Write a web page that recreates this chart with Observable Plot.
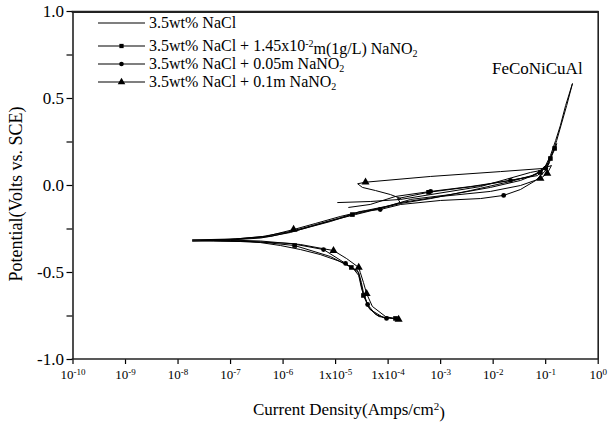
<!DOCTYPE html>
<html><head><meta charset="utf-8">
<script src="https://cdn.jsdelivr.net/npm/d3@7"></script>
<script src="https://cdn.jsdelivr.net/npm/@observablehq/plot@0.6"></script>
<style>body{margin:0;background:#fff} #chart{width:610px;height:427px}</style>
</head><body><div id="chart"></div>
<script>
// ---- data ----
const xTickExponents = [-10,-9,-8,-7,-6,-5,-4,-3,-2,-1,0];
const xTickLabels = ["10^-10","10^-9","10^-8","10^-7","10^-6","1x10^-5","1x10^-4","10^-3","10^-2","10^-1","10^0"];
const yMajorTicks = [-1,-0.5,0,0.5,1];
const yMinorTicks = [-0.75,-0.25,0.25,0.75];
const seriesNames = ["3.5wt% NaCl","3.5wt% NaCl + 1.45x10-2m(1g/L) NaNO2","3.5wt% NaCl + 0.05m NaNO2","3.5wt% NaCl + 0.1m NaNO2"];
const seriesSymbols = [null,"square","circle","triangle"];
const annotationText = "FeCoNiCuAl";
const annotationPoint = [-1.16, 0.672]; // [log10 current, potential]

// curves: [log10 current (A/cm2), potential (V vs SCE)]
const naclCurve = [[-3.92,-0.764],[-4.18,-0.753],[-4.36,-0.707],[-4.45,-0.644],[-4.51,-0.586],[-4.56,-0.517],[-4.68,-0.471],[-4.91,-0.437],[-5.29,-0.397],[-5.67,-0.368],[-6.05,-0.345],[-6.43,-0.328],[-6.81,-0.322],[-7.33,-0.319],[-7.73,-0.319],[-7.00,-0.313],[-6.43,-0.302],[-5.86,-0.270],[-5.48,-0.236],[-5.00,-0.195],[-4.62,-0.167],[-4.15,-0.132],[-3.76,-0.103],[-3.19,-0.075],[-2.43,-0.029],[-1.67,0.023],[-1.19,0.063],[-1.00,0.115],[-0.91,0.172],[-0.81,0.259],[-0.72,0.345],[-0.62,0.460],[-0.49,0.586],[-0.60,0.46],[-0.79,0.259],[-0.93,0.132],[-1.10,0.086],[-1.29,0.075],[-2.24,-0.006],[-3.19,-0.052],[-3.76,-0.080],[-4.34,-0.092],[-4.96,-0.098]];
const nitrite145Curve = [[-3.86,-0.764],[-4.09,-0.759],[-4.34,-0.713],[-4.47,-0.632],[-4.53,-0.546],[-4.58,-0.489],[-4.70,-0.471],[-5.10,-0.408],[-5.78,-0.345],[-6.43,-0.325],[-7.00,-0.316],[-7.33,-0.313],[-6.81,-0.307],[-6.24,-0.293],[-5.67,-0.253],[-5.10,-0.207],[-4.68,-0.167],[-3.955,-0.115],[-3.57,-0.080],[-2.81,-0.052],[-2.05,-0.011],[-1.48,0.029],[-1.10,0.075],[-0.95,0.132],[-0.87,0.190],[-0.83,0.213],[-0.79,0.241],[-0.84,0.20],[-0.91,0.155],[-1.00,0.109],[-1.155,0.057],[-2.24,0.000],[-3.23,-0.039],[-3.82,-0.075],[-3.76,-0.103]];
const nitrite005Curve = [[-4.03,-0.764],[-4.24,-0.741],[-4.39,-0.684],[-4.47,-0.615],[-4.51,-0.557],[-4.56,-0.500],[-4.81,-0.448],[-5.23,-0.368],[-5.86,-0.333],[-6.62,-0.322],[-7.19,-0.319],[-7.57,-0.316],[-7.00,-0.310],[-6.39,-0.293],[-5.86,-0.264],[-5.44,-0.230],[-4.96,-0.190],[-4.53,-0.149],[-4.15,-0.138],[-3.76,-0.109],[-3.00,-0.086],[-2.24,-0.075],[-1.80,-0.057],[-1.48,-0.023],[-1.19,0.029],[-1.00,0.086],[-0.93,0.132],[-1.00,0.098],[-1.29,0.052],[-1.67,0.029],[-2.43,-0.006],[-3.19,-0.034],[-3.86,-0.063],[-4.34,-0.109],[-4.75,-0.126]];
const nitrite01Curve = [[-3.80,-0.770],[-4.05,-0.753],[-4.30,-0.695],[-4.41,-0.621],[-4.47,-0.557],[-4.53,-0.500],[-4.56,-0.471],[-4.79,-0.420],[-5.04,-0.374],[-5.67,-0.339],[-6.43,-0.319],[-7.10,-0.313],[-7.73,-0.313],[-6.91,-0.307],[-6.33,-0.293],[-5.80,-0.253],[-5.38,-0.218],[-4.91,-0.178],[-4.43,-0.144],[-4.05,-0.121],[-3.76,-0.098],[-3.00,-0.063],[-2.05,-0.034],[-1.48,0.000],[-1.10,0.040],[-0.97,0.069],[-0.89,0.115],[-1.04,0.098],[-1.86,0.080],[-3.19,0.052],[-4.43,0.019],[-4.58,0.010],[-4.49,-0.011],[-4.24,-0.029],[-3.955,-0.052],[-3.76,-0.075]];

const nitrite145Marks = [[-3.86,-0.764],[-4.47,-0.632],[-4.70,-0.471],[-5.78,-0.345],[-4.68,-0.167],[-3.23,-0.039],[-0.83,0.213],[-0.91,0.155],[-1.10,0.075]];
const nitrite005Marks = [[-4.03,-0.764],[-4.39,-0.684],[-4.81,-0.448],[-5.23,-0.368],[-4.15,-0.138],[-1.80,-0.057],[-1.67,0.029],[-1.00,0.098],[-3.19,-0.034]];
const nitrite01Marks = [[-3.80,-0.770],[-4.41,-0.621],[-4.56,-0.471],[-5.04,-0.374],[-5.80,-0.253],[-4.43,0.019],[-0.97,0.069],[-1.10,0.040]];

// ---- build tables ----
const curves = [naclCurve, nitrite145Curve, nitrite005Curve, nitrite01Curve];
const lineRows = curves.flatMap((c, s) => c.map(([l, e]) => ({current: 10 ** l, potential: e, series: seriesNames[s]})));
const toRows = arr => arr.map(([l, e]) => ({current: 10 ** l, potential: e}));
const xTicks = xTickExponents.map(e => 10 ** e);
const xLabelFor = d => xTickLabels[xTickExponents.indexOf(Math.round(Math.log10(d)))];
const xDomain = [1e-10, 1];
const yDomain = [-1, 1];

const font = "Liberation Serif";
const plot = Plot.plot({
  width: 610, height: 427,
  marginLeft: 72.5, marginRight: 12.3, marginTop: 11, marginBottom: 68,
  style: {fontFamily: font, fontSize: "13px", color: "black", background: "white", overflow: "visible"},
  x: {type: "log", domain: xDomain},
  y: {domain: yDomain},
  marks: [
    Plot.line(lineRows, {x: "current", y: "potential", z: "series", stroke: "black", strokeWidth: 1}),
    Plot.dot(toRows(nitrite145Marks), {x: "current", y: "potential", symbol: "square", r: 2.6, fill: "black"}),
    Plot.dot(toRows(nitrite005Marks), {x: "current", y: "potential", symbol: "circle", r: 2.4, fill: "black"}),
    Plot.dot(toRows(nitrite01Marks), {x: "current", y: "potential", symbol: "triangle", r: 3, fill: "black"}),
    Plot.text([{current: 10 ** annotationPoint[0], potential: annotationPoint[1], t: annotationText}], {x: "current", y: "potential", text: "t", fontSize: 17, fill: "black"}),
    Plot.axisX({ticks: xTicks, tickFormat: xLabelFor, tickSize: 5, tickPadding: 5, label: null, fontSize: 13, strokeWidth: 1.2}),
    Plot.axisY({ticks: yMajorTicks, tickFormat: d => d.toFixed(1), tickSize: 6, tickPadding: 3, label: null, fontSize: 17, strokeWidth: 1.2}),
    Plot.axisY({ticks: yMinorTicks, tickFormat: () => "", tickSize: 6, label: null, strokeWidth: 1.2}),
    Plot.ruleX(xDomain, {stroke: "#222", strokeWidth: 1.6})
  ]
});

const svg = d3.select(plot);
const sx = plot.scale("x"), sy = plot.scale("y");
// box top/bottom edges from the scales
const x0 = sx.apply(xDomain[0]) - 0.8, x1 = sx.apply(xDomain[1]) + 0.8;
svg.append("path").attr("stroke", "#222").attr("stroke-width", 2.2).attr("fill", "none")
  .attr("d", `M${x0},${sy.apply(yDomain[1]) + 0.8}H${x1}`);
svg.append("path").attr("stroke", "#222").attr("stroke-width", 1.6).attr("fill", "none")
  .attr("d", `M${x0},${sy.apply(yDomain[0])}H${x1}`);

// superscripts in x tick labels
svg.selectAll('g[aria-label="x-axis tick label"] text').each(function() {
  const s = this.textContent;
  if (!s.includes("^")) return;
  const [base, exp] = s.split("^");
  const t = d3.select(this).attr("font-size", 13);
  t.text(base);
  t.append("tspan").attr("dy", "-0.45em").attr("font-size", "9px").text(exp);
});

// axis titles
svg.append("text").attr("transform", "translate(22,194) rotate(-90)").attr("text-anchor", "middle")
  .attr("font-family", font).attr("font-size", 18).attr("fill", "black").text("Potential(Volts vs. SCE)");
const xl = svg.append("text").attr("x", 349).attr("y", 415).attr("text-anchor", "middle")
  .attr("font-family", font).attr("font-size", 17).attr("fill", "black");
xl.append("tspan").text("Current Density(Amps/cm");
xl.append("tspan").attr("dy", "-0.45em").attr("font-size", 11).text("2");
xl.append("tspan").attr("dy", "0.45em").text(")");

// legend
const legendY = [23, 46, 64, 82];
const lg = svg.append("g").attr("font-family", font).attr("font-size", 16).attr("fill", "black").attr("text-anchor", "start");
seriesNames.forEach((name, i) => {
  const y = legendY[i];
  lg.append("line").attr("x1", 98).attr("x2", 145).attr("y1", y).attr("y2", y).attr("stroke", "black").attr("stroke-width", 1.2);
  const sym = seriesSymbols[i];
  if (sym) {
    const type = {square: d3.symbolSquare, circle: d3.symbolCircle, triangle: d3.symbolTriangle}[sym];
    const r = {square: 2.4, circle: 2.3, triangle: 2.8}[sym];
    lg.append("path").attr("transform", `translate(121.5,${y})`).attr("d", d3.symbol(type, Math.PI * r * r)()).attr("fill", "black");
  }
  const t = lg.append("text").attr("x", 149).attr("y", y + 5).attr("text-anchor", "start");
  const m = name.match(/^(.*1\.45x10)(-2)(m.*NaNO)(2)$/);
  if (m) {
    t.append("tspan").text(m[1]);
    t.append("tspan").attr("dy", "-0.45em").attr("font-size", 10).text(m[2]);
    t.append("tspan").attr("dy", "0.45em").text(m[3]);
    t.append("tspan").attr("dy", "0.3em").attr("font-size", 10).text(m[4]);
  } else if (name.endsWith("NaNO2")) {
    t.append("tspan").text(name.slice(0, -1));
    t.append("tspan").attr("dy", "0.3em").attr("font-size", 10).text("2");
  } else {
    t.text(name);
  }
});

document.getElementById("chart").appendChild(plot);
</script>
</body></html>
